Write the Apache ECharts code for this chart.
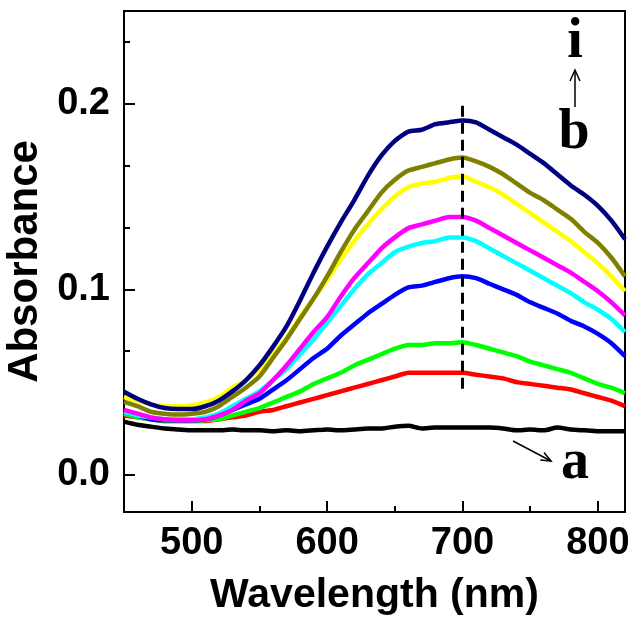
<!DOCTYPE html>
<html>
<head>
<meta charset="utf-8">
<script src="https://cdn.jsdelivr.net/npm/echarts@6/dist/echarts.min.js"></script>
<style>html,body{margin:0;padding:0;background:#fff;}#c{width:639px;height:630px;}</style>
</head>
<body>
<div id="c"></div>
<script>
// Wavelength grid (nm)
const wavelength = [450,460,470,480,490,500,510,520,530,540,550,560,570,580,590,600,610,620,630,640,650,660,670,680,690,700,710,720,730,740,750,760,770,780,790,800,810,820];

const curveA = [0.0287,0.027,0.026,0.025,0.0245,0.024,0.024,0.024,0.0245,0.024,0.024,0.0235,0.024,0.0235,0.024,0.0245,0.024,0.0245,0.025,0.025,0.026,0.0265,0.025,0.0255,0.0255,0.0255,0.0255,0.0255,0.025,0.024,0.0245,0.024,0.0255,0.0245,0.024,0.0235,0.0235,0.0235];
const curveB = [0.032,0.031,0.030,0.029,0.029,0.029,0.029,0.030,0.031,0.032,0.034,0.035,0.037,0.039,0.041,0.043,0.045,0.047,0.049,0.051,0.053,0.055,0.055,0.055,0.055,0.055,0.054,0.053,0.052,0.050,0.049,0.048,0.047,0.046,0.044,0.042,0.040,0.037];
const curveC = [0.033,0.031,0.030,0.029,0.029,0.029,0.0295,0.030,0.032,0.034,0.036,0.039,0.042,0.045,0.049,0.052,0.055,0.059,0.062,0.065,0.068,0.070,0.070,0.071,0.071,0.0715,0.070,0.068,0.066,0.064,0.061,0.059,0.057,0.055,0.052,0.049,0.047,0.044];
const curveD = [0.034,0.032,0.030,0.0295,0.0295,0.0295,0.030,0.032,0.035,0.038,0.041,0.046,0.051,0.057,0.063,0.068,0.075,0.081,0.087,0.092,0.097,0.101,0.102,0.104,0.106,0.107,0.106,0.103,0.100,0.097,0.093,0.090,0.087,0.083,0.080,0.076,0.071,0.064];
const curveE = [0.034,0.032,0.031,0.030,0.030,0.030,0.031,0.033,0.037,0.041,0.045,0.051,0.057,0.065,0.073,0.082,0.091,0.100,0.108,0.114,0.120,0.123,0.125,0.126,0.128,0.128,0.126,0.122,0.118,0.114,0.110,0.106,0.102,0.098,0.093,0.089,0.084,0.077];
const curveF = [0.035,0.033,0.031,0.030,0.0295,0.0295,0.030,0.032,0.035,0.040,0.044,0.051,0.059,0.068,0.077,0.085,0.096,0.106,0.114,0.122,0.128,0.133,0.135,0.137,0.139,0.139,0.137,0.133,0.129,0.125,0.121,0.117,0.113,0.109,0.104,0.099,0.093,0.086];
const curveG = [0.042,0.040,0.038,0.037,0.037,0.0375,0.039,0.042,0.047,0.051,0.057,0.065,0.074,0.085,0.095,0.105,0.116,0.126,0.135,0.143,0.150,0.155,0.157,0.158,0.160,0.161,0.158,0.155,0.151,0.146,0.141,0.136,0.131,0.126,0.120,0.114,0.107,0.099];
const curveH = [0.0394,0.037,0.034,0.033,0.0325,0.033,0.034,0.037,0.042,0.047,0.053,0.063,0.073,0.084,0.095,0.107,0.120,0.132,0.142,0.152,0.159,0.164,0.166,0.168,0.170,0.171,0.169,0.166,0.162,0.157,0.152,0.148,0.143,0.138,0.131,0.125,0.117,0.107];
const curveI = [0.0448,0.041,0.038,0.036,0.0355,0.0355,0.037,0.040,0.045,0.051,0.059,0.069,0.080,0.094,0.109,0.123,0.136,0.148,0.161,0.172,0.180,0.185,0.186,0.189,0.190,0.191,0.190,0.186,0.182,0.178,0.173,0.168,0.162,0.156,0.151,0.145,0.137,0.127];

const seriesNames = ['a','b','c','d','e','f','g','h','i'];
const seriesData = [curveA,curveB,curveC,curveD,curveE,curveF,curveG,curveH,curveI];
const seriesColors = ['#000000','#ff0000','#00ff00','#0000ff','#00ffff','#ff00ff','#ffff00','#808000','#000080'];

const dashX = [700, 700];
const dashY = [0.199, 0.044];

// Tick values
const xMajor = [500, 600, 700, 800];
const xMinor = [550, 650, 750];
const yMajor = [0, 0.1, 0.2];
const yMinor = [0.1/3, 0.2/3, 0.4/3, 0.5/3, 0.7/3];

const chart = echarts.init(document.getElementById('c'), null, {renderer:'canvas'});

const series = seriesData.map((arr, k) => ({
  name: seriesNames[k], type: 'line', xAxisIndex: 0, yAxisIndex: 0,
  data: wavelength.map((w, i) => [w, arr[i]]),
  showSymbol: false, symbol: 'none', smooth: 0.2,
  lineStyle: {color: seriesColors[k], width: 4.5},
  z: 2 + k
}));
series.push({
  type: 'line', xAxisIndex: 0, yAxisIndex: 0,
  data: dashX.map((x, i) => [x, dashY[i]]),
  showSymbol: false, symbol: 'none',
  lineStyle: {color: '#000', width: 3, type: [11, 6]},
  z: 20
});

const sans = "'Liberation Sans', Arial, sans-serif";
const serif = "'Liberation Serif', 'Times New Roman', serif";

chart.setOption({
  animation: false,
  backgroundColor: '#fff',
  grid: {left: 124, right: 14, top: 11, bottom: 118, show: true, borderColor: '#000', borderWidth: 2, backgroundColor: 'transparent', outerBoundsMode: 'none', containLabel: false},
  xAxis: [
    {type: 'value', min: 450, max: 820, position: 'bottom',
     axisLine: {show: true, onZero: false, lineStyle: {color: '#000', width: 2}},
     axisTick: {show: true, inside: true, length: 11, customValues: xMajor, lineStyle: {color: '#000', width: 2}},
     axisLabel: {show: true, margin: 13, color: '#000', fontFamily: sans, fontWeight: 'bold', fontSize: 38,
       customValues: xMajor, formatter: v => String(Math.round(v))},
     splitLine: {show: false},
     name: 'Wavelength (nm)', nameLocation: 'middle', nameGap: 63,
     nameTextStyle: {color: '#000', fontFamily: sans, fontWeight: 'bold', fontSize: 41}},
    {type: 'value', min: 450, max: 820, position: 'bottom',
     axisLine: {show: false, onZero: false},
     axisTick: {show: true, inside: true, length: 6, customValues: xMinor, lineStyle: {color: '#000', width: 2}},
     axisLabel: {show: false}, splitLine: {show: false}}
  ],
  yAxis: [
    {type: 'value', min: -0.02, max: 0.25, position: 'left',
     axisLine: {show: true, onZero: false, lineStyle: {color: '#000', width: 2}},
     axisTick: {show: true, inside: true, length: 11, customValues: yMajor, lineStyle: {color: '#000', width: 2}},
     axisLabel: {show: true, margin: 14, color: '#000', fontFamily: sans, fontWeight: 'bold', fontSize: 38,
       customValues: yMajor, formatter: v => (Math.abs(v) < 1e-9 ? '0.0' : v.toFixed(1))},
     splitLine: {show: false},
     name: 'Absorbance', nameLocation: 'middle', nameGap: 78,
     nameTextStyle: {color: '#000', fontFamily: sans, fontWeight: 'bold', fontSize: 42}},
    {type: 'value', min: -0.02, max: 0.25, position: 'left',
     axisLine: {show: false, onZero: false},
     axisTick: {show: true, inside: true, length: 6, customValues: yMinor, lineStyle: {color: '#000', width: 2}},
     axisLabel: {show: false}, splitLine: {show: false}}
  ],
  series: series,
  graphic: [
    {type: 'text', x: 575, y: 43, style: {text: 'i', font: "bold 56px " + serif, fill: '#000', textAlign: 'center', textVerticalAlign: 'middle'}, z: 100},
    {type: 'line', shape: {x1: 575, y1: 107, x2: 575, y2: 71}, style: {stroke: '#000', lineWidth: 1.5}, z: 100},
    {type: 'polyline', shape: {points: [[570, 81], [575, 70], [580, 81]]}, style: {stroke: '#000', lineWidth: 1.5, fill: null}, z: 100},
    {type: 'text', x: 574, y: 134, style: {text: 'b', font: "bold 56px " + serif, fill: '#000', textAlign: 'center', textVerticalAlign: 'middle'}, z: 100},
    {type: 'line', shape: {x1: 513, y1: 441, x2: 551, y2: 461}, style: {stroke: '#000', lineWidth: 1.5}, z: 100},
    {type: 'polyline', shape: {points: [[544, 452.6], [551, 461], [540.3, 459.9]]}, style: {stroke: '#000', lineWidth: 1.5, fill: null}, z: 100},
    {type: 'text', x: 575, y: 464, style: {text: 'a', font: "bold 56px " + serif, fill: '#000', textAlign: 'center', textVerticalAlign: 'middle'}, z: 100}
  ]
});
</script>
</body>
</html>
